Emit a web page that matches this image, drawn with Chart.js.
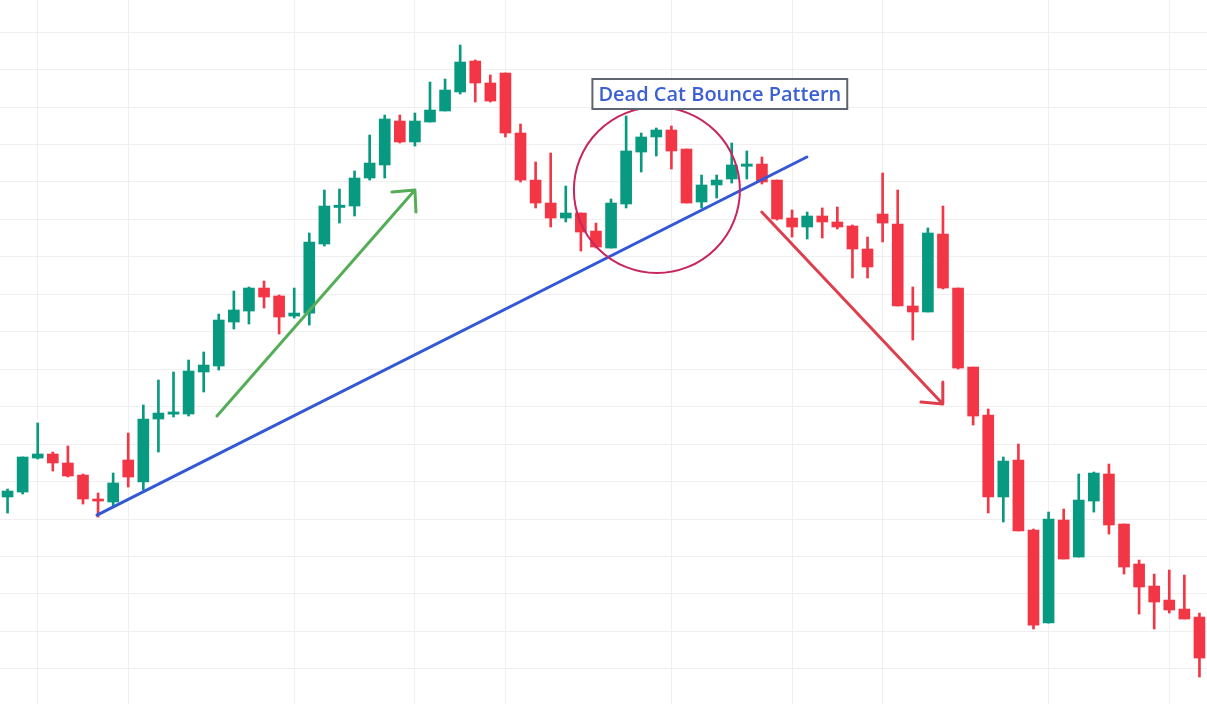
<!DOCTYPE html>
<html>
<head>
<meta charset="utf-8">
<script src="https://cdn.jsdelivr.net/npm/chart.js@4.4.1/dist/chart.umd.min.js"></script>
<style>
  html, body { margin: 0; padding: 0; background: #ffffff; }
  #wrap { width: 1207px; height: 704px; }
</style>
</head>
<body>
<div id="wrap"><canvas id="deadCat"></canvas></div>
<script>
// candle data, one entry per session
const sessions = Array.from({length: 80}, (_, i) => 'D' + (i + 1));

const openP = [
  122.94, 123.60, 128.14, 128.68, 127.48, 125.87, 122.67, 122.27, 127.88, 124.94,
  133.35, 134.00, 134.02, 139.63, 140.43, 146.30, 147.77, 150.84, 149.78, 147.10,
  147.50, 156.72, 161.60, 161.79, 165.53, 167.27, 173.14, 170.34, 173.01, 174.48,
  177.02, 181.15, 178.22, 179.55, 171.54, 165.26, 162.19, 160.19, 160.86, 158.45,
  156.18, 162.06, 169.00, 171.01, 171.94, 169.40, 162.33, 164.60, 165.40, 167.10,
  167.40, 165.26, 160.19, 158.99, 160.46, 159.66, 159.12, 156.05, 160.72, 159.39,
  148.44, 147.64, 158.05, 150.84, 140.29, 133.89, 122.94, 127.88, 118.53, 106.11,
  119.86, 114.92, 122.40, 126.01, 119.33, 113.99, 111.05, 109.18, 107.98, 106.91
];
const highP = [
  124.00, 128.28, 132.82, 128.94, 129.75, 126.01, 123.47, 126.14, 131.48, 135.22,
  138.56, 139.63, 141.23, 142.30, 147.37, 150.44, 150.98, 151.78, 149.91, 150.84,
  158.19, 163.93, 164.06, 166.47, 171.27, 173.94, 173.94, 174.21, 178.35, 178.75,
  183.29, 181.29, 179.29, 179.55, 172.74, 167.67, 168.87, 164.46, 160.86, 159.52,
  162.73, 173.81, 171.54, 172.21, 172.48, 169.40, 165.93, 165.93, 170.21, 169.14,
  168.34, 165.26, 161.26, 160.99, 161.53, 161.66, 159.26, 157.65, 166.20, 163.93,
  150.98, 158.86, 161.79, 150.84, 140.29, 134.69, 128.28, 130.01, 118.66, 120.93,
  121.33, 126.01, 126.27, 127.34, 119.33, 114.52, 112.65, 113.19, 112.52, 107.44
];
const lowP = [
  120.80, 123.34, 128.01, 126.41, 125.61, 122.00, 120.26, 121.73, 124.27, 123.87,
  128.94, 133.62, 133.75, 136.96, 139.89, 145.37, 146.04, 148.17, 144.70, 146.84,
  145.90, 156.45, 159.52, 160.46, 165.26, 165.53, 170.21, 169.80, 173.01, 174.48,
  176.75, 175.68, 175.68, 171.01, 165.00, 161.53, 158.99, 159.66, 155.78, 156.18,
  156.18, 161.53, 166.33, 168.47, 166.73, 162.19, 161.53, 162.86, 164.86, 165.40,
  164.73, 159.92, 157.65, 157.39, 157.52, 158.72, 152.18, 152.18, 156.99, 148.44,
  143.90, 147.64, 150.71, 140.03, 132.55, 120.80, 119.60, 118.40, 105.31, 106.11,
  114.66, 114.92, 120.93, 117.99, 112.65, 107.31, 105.31, 107.44, 106.65, 98.90
];
const closeP = [
  123.74, 128.28, 128.68, 127.48, 125.74, 122.67, 122.40, 124.81, 125.61, 133.35,
  134.15, 134.29, 139.76, 140.56, 146.57, 147.91, 150.84, 149.64, 146.97, 147.50,
  156.99, 161.79, 161.90, 165.53, 167.53, 173.41, 170.34, 173.14, 174.61, 177.28,
  181.02, 178.22, 175.81, 171.54, 165.26, 162.19, 160.19, 160.86, 158.32, 156.32,
  162.19, 169.14, 171.01, 171.94, 169.14, 162.19, 164.60, 165.26, 167.27, 167.40,
  165.00, 160.06, 158.99, 160.46, 159.66, 158.99, 156.05, 153.65, 159.52, 148.44,
  147.64, 158.19, 150.84, 140.16, 133.75, 122.94, 127.74, 118.40, 105.84, 120.00,
  114.66, 122.53, 126.14, 119.20, 113.59, 110.92, 108.92, 107.85, 106.65, 101.44
];

// sessions where the vertical grid lines fall
const gridSessions = [2, 8, 19, 27, 33, 44, 52, 58, 69, 77];

// drawn annotations (session index, price)
const supportLine = [{x: 5.93, y: 120.53}, {x: 52.98, y: 168.34}];
const upArrow = [{x: 13.88, y: 133.75}, {x: 27.0, y: 163.93}, {x: 25.48, y: 163.66}, {x: 27.0, y: 163.93}, {x: 27.07, y: 160.99}];
const downArrow = [{x: 49.99, y: 160.99}, {x: 61.99, y: 135.35}, {x: 60.54, y: 135.62}, {x: 61.99, y: 135.35}, {x: 61.99, y: 138.29}];
const bounceCentre = {x: 43.04, y: 163.93};
const bounceRadius = 83;
const noteText = 'Dead Cat Bounce Pattern';
const notePos = {x: 47.21, y: 176.75};

const UP = '#089981', DOWN = '#f23645';
const candleColors = openP.map((o, i) => closeP[i] >= o ? UP : DOWN);

// circle round the bounce and the label box, placed through the scales
const notePlugin = {
  id: 'note',
  afterDatasetsDraw(chart) {
    const {ctx, scales} = chart;
    ctx.save();
    const cx = scales.x2.getPixelForValue(bounceCentre.x);
    const cy = scales.y.getPixelForValue(bounceCentre.y);
    ctx.beginPath();
    ctx.arc(cx, cy, bounceRadius, 0, Math.PI * 2);
    ctx.strokeStyle = '#c8255e';
    ctx.lineWidth = 2;
    ctx.stroke();

    const px = scales.x2.getPixelForValue(notePos.x);
    const py = scales.y.getPixelForValue(notePos.y);
    ctx.font = '600 20px "Open Sans", sans-serif';
    const w = ctx.measureText(noteText).width + 12;
    const h = 30;
    ctx.fillStyle = '#ffffff';
    ctx.fillRect(px - w / 2, py - h / 2, w, h);
    ctx.strokeStyle = '#5f6570';
    ctx.lineWidth = 2;
    ctx.strokeRect(px - w / 2, py - h / 2, w, h);
    ctx.fillStyle = '#3b5fd4';
    ctx.textAlign = 'center';
    ctx.textBaseline = 'middle';
    ctx.fillText(noteText, px, py + 1);
    ctx.restore();
  }
};

new Chart(document.getElementById('deadCat'), {
  type: 'bar',
  data: {
    labels: sessions,
    datasets: [
      {
        type: 'line', xAxisID: 'x2', data: supportLine, order: 0,
        borderColor: '#3358d6', borderWidth: 3, pointRadius: 0, borderCapStyle: 'round'
      },
      {
        type: 'line', xAxisID: 'x2', data: upArrow, order: 0,
        borderColor: '#55ad58', borderWidth: 3, pointRadius: 0,
        borderCapStyle: 'round', borderJoinStyle: 'round'
      },
      {
        type: 'line', xAxisID: 'x2', data: downArrow, order: 0,
        borderColor: '#df3f4c', borderWidth: 3, pointRadius: 0,
        borderCapStyle: 'round', borderJoinStyle: 'round'
      },
      {
        label: 'Body',
        data: openP.map((o, i) => [o, closeP[i]]),
        backgroundColor: candleColors,
        barThickness: 11, minBarLength: 2, grouped: false, order: 1
      },
      {
        label: 'Wick',
        data: lowP.map((l, i) => [l, highP[i]]),
        backgroundColor: candleColors,
        barThickness: 2, grouped: false, order: 2
      }
    ]
  },
  options: {
    responsive: true,
    maintainAspectRatio: false,
    animation: false,
    events: [],
    layout: { padding: 0 },
    plugins: { legend: { display: false }, tooltip: { enabled: false } },
    scales: {
      x: { display: false },
      x2: {
        type: 'linear', position: 'bottom', min: -0.5, max: 79.5, offset: false,
        afterBuildTicks: s => { s.ticks = gridSessions.map(v => ({value: v})); },
        ticks: { display: false },
        border: { display: false },
        grid: { color: '#efefef', drawTicks: false, offset: false }
      },
      y: {
        min: 95.3, max: 189.3,
        afterBuildTicks: s => { s.ticks = s.ticks.filter(t => Math.abs(t.value % 5) < 1e-6); },
        ticks: { display: false, stepSize: 5 },
        border: { display: false },
        grid: { color: '#efefef', drawTicks: false }
      }
    }
  },
  plugins: [notePlugin]
});
</script>
</body>
</html>
